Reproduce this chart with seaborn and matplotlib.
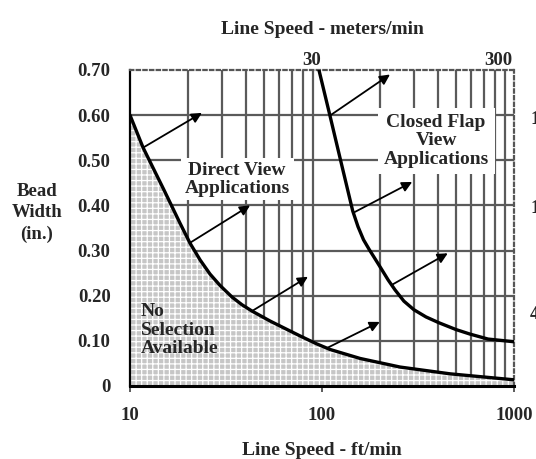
import matplotlib
matplotlib.use("Agg")
import matplotlib.pyplot as plt
import seaborn as sns
import pandas as pd

# Direct-view limit curve (bead width in inches vs. line speed in ft/min)
ft_min_direct = [10, 11.7, 15, 18.2, 20.5, 23.2, 26.1, 29.4, 34, 38.3, 43.2,
                 53.6, 68.1, 76.8, 93.1, 110, 158, 255, 464, 1000]
bead_direct = [0.60, 0.528, 0.435, 0.361, 0.317, 0.279, 0.248, 0.223, 0.197,
               0.180, 0.166, 0.144, 0.122, 0.111, 0.094, 0.081, 0.061, 0.042,
               0.027, 0.0137]

# Closed-flap-view limit curve
ft_min_flap = [96.4, 110, 124, 144.5, 154, 164.5, 176.4, 188.8, 202, 221, 240,
               267, 301, 348, 407, 499, 590, 732, 1000]
bead_flap = [0.70, 0.599, 0.506, 0.388, 0.353, 0.324, 0.302, 0.282, 0.262,
             0.235, 0.213, 0.188, 0.169, 0.153, 0.140, 0.125, 0.115, 0.104,
             0.098]

# Arrows pointing from each curve into its application region
direct_arrow_from = [(11.7, 0.528), (20.5, 0.317), (43.2, 0.166), (106, 0.084)]
direct_arrow_to = [(23.7, 0.605), (42.2, 0.40), (84.5, 0.242), (200, 0.142)]
flap_arrow_from = [(110, 0.599), (146, 0.384), (231, 0.224)]
flap_arrow_to = [(226, 0.69), (295, 0.452), (452, 0.294)]

y_ticks = [0, 0.10, 0.20, 0.30, 0.40, 0.50, 0.60, 0.70]
y_tick_labels = ["0", "0.10", "0.20", "0.30", "0.40", "0.50", "0.60", "0.70"]
x_ticks = [10, 100, 1000]
x_tick_labels = ["10", "100", "1000"]
m_ticks = [30, 300]
m_tick_labels = ["30", "300"]
mm_ticks = [15, 10, 4]
FT_PER_M = 3.2808
MM_PER_IN = 25.4

sns.set_style("white")
plt.rcParams["font.family"] = ["Liberation Serif", "DejaVu Serif"]
plt.rcParams["font.weight"] = "bold"
plt.rcParams["hatch.linewidth"] = 0.9

fig = plt.figure(figsize=(5.36, 4.59), dpi=100)
ax = fig.add_axes([130 / 536, 73 / 459, 384 / 536, 316 / 459])
ax.set_xscale("log")
ax.set_xlim(10, 1000)
ax.set_ylim(0, 0.70)

grid_kw = dict(color="#5a5a5a", lw=1.6, zorder=1)
for v in list(range(20, 100, 10)) + list(range(200, 1000, 100)):
    ax.axvline(v, **grid_kw)
for h in y_ticks[1:-1]:
    ax.axhline(h, **grid_kw)

# Shaded "no selection" region below the direct-view curve
ax.fill_between(ft_min_direct, 0, bead_direct, facecolor="#c6c6c6",
                edgecolor="white", hatch="+++", lw=0, zorder=2)

df_direct = pd.DataFrame({"speed": ft_min_direct, "width": bead_direct})
df_flap = pd.DataFrame({"speed": ft_min_flap, "width": bead_flap})
sns.lineplot(data=df_direct, x="speed", y="width", ax=ax, color="black",
             lw=2.4, zorder=5, sort=False)
sns.lineplot(data=df_flap, x="speed", y="width", ax=ax, color="black",
             lw=2.4, zorder=5, sort=False)

for (x0, y0), (x1, y1) in zip(direct_arrow_from + flap_arrow_from,
                              direct_arrow_to + flap_arrow_to):
    ax.annotate("", xy=(x1, y1), xytext=(x0, y0), zorder=6,
                arrowprops=dict(arrowstyle="-|>", color="black", lw=1.3,
                                mutation_scale=15, shrinkA=0, shrinkB=0))

ax.text(36.1, 0.458, "Direct View\nApplications", ha="center", va="center",
        fontsize=14, linespacing=1.05, zorder=4,
        bbox=dict(facecolor="white", edgecolor="none", boxstyle="square,pad=0.2"))
ax.text(393, 0.543, "Closed Flap\nView\nApplications", ha="center", va="center",
        fontsize=14, linespacing=1.12, zorder=4,
        bbox=dict(facecolor="white", edgecolor="none", boxstyle="square,pad=0.3"))
ax.text(11.4, 0.124, "No\nSelection\nAvailable", ha="left", va="center",
        fontsize=14, linespacing=1.08, zorder=4)

ax.set_xticks(x_ticks)
ax.set_xticklabels(x_tick_labels)
ax.xaxis.set_minor_locator(matplotlib.ticker.NullLocator())
ax.set_yticks(y_ticks)
ax.set_yticklabels(y_tick_labels)
ax.tick_params(axis="both", labelsize=13.5, direction="out", length=4,
               width=1.2, color="#404040")
ax.tick_params(axis="x", pad=11)
ax.tick_params(axis="y", pad=10)
ax.set_xlabel("Line Speed - ft/min", fontsize=14, fontweight="bold", labelpad=13)
ax.set_ylabel("")

ax.spines["left"].set_color("black")
ax.spines["bottom"].set_color("black")
ax.spines["left"].set_linewidth(1.6)
ax.spines["bottom"].set_linewidth(2.2)
for side in ["top", "right"]:
    ax.spines[side].set_linestyle((0, (1.5, 1.5)))
    ax.spines[side].set_color("#555555")
    ax.spines[side].set_linewidth(1.6)

# Metric speed scale along the top
top = ax.twiny()
top.set_xscale("log")
top.set_xlim(10 / FT_PER_M, 1000 / FT_PER_M)
top.set_xticks(m_ticks)
top.set_xticklabels(m_tick_labels, ha="right")
top.xaxis.set_minor_locator(matplotlib.ticker.NullLocator())
top.tick_params(axis="x", labelsize=13.5, length=0, pad=1)
for s in top.spines.values():
    s.set_visible(False)
top.set_xlabel("Line Speed - meters/min", fontsize=14, fontweight="bold",
               labelpad=13)

# Metric bead-width scale on the right
for mm in mm_ticks:
    ax.annotate(str(mm), xy=(1.0, mm / MM_PER_IN), xycoords=("axes fraction", "data"),
                xytext=(16, 0), textcoords="offset pixels", ha="left",
                va="center", fontsize=13.5, annotation_clip=False)

fig.text(37 / 536, 1 - 213 / 459, "Bead\nWidth\n(in.)", ha="center",
         va="center", fontsize=13.5, linespacing=1.35)

fig.savefig("out.png", dpi=100)
